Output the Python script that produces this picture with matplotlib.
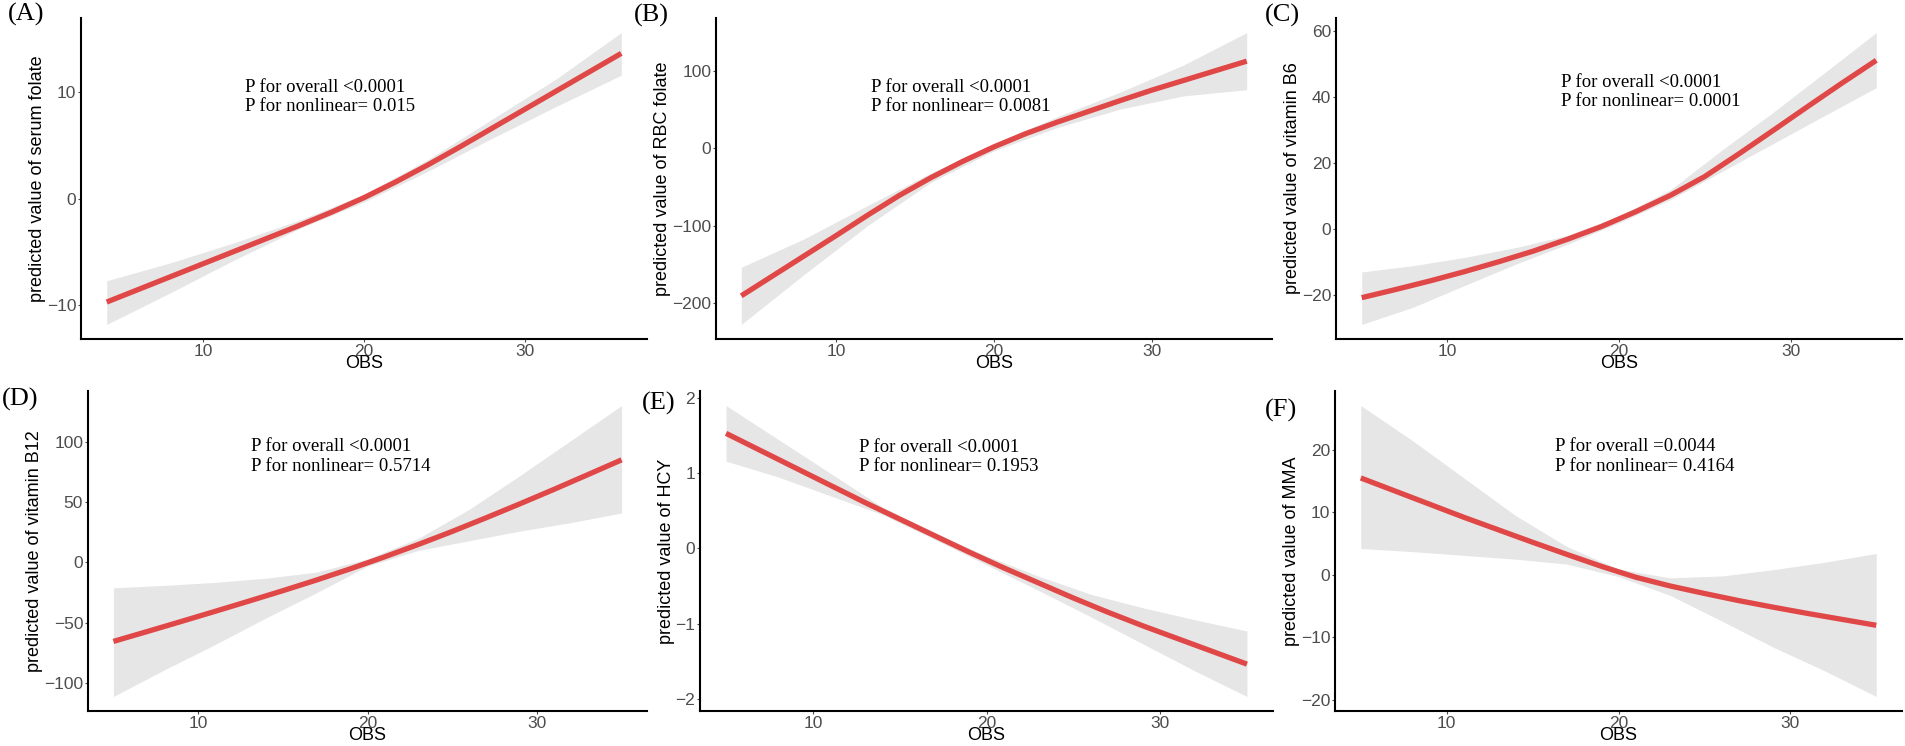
#!/usr/bin/env python3
"""
RCS curves: OBS vs predicted values of six markers (2x3 panels)
"""

import matplotlib
matplotlib.use('Agg')
import matplotlib.pyplot as plt

# ---- data ----
# fitted curve (finer grid) and 95% CI band (coarser grid)
obs_a = [4, 6, 8, 10, 12, 14, 16, 18, 20, 22, 24, 26, 28, 30, 32, 34, 36]
fit_a = [-9.7, -8.5, -7.3, -6.1, -4.9, -3.7, -2.5, -1.25, 0.1, 1.6, 3.2,
         4.9, 6.65, 8.4, 10.15, 11.9, 13.65]
ci_x_a = [4, 8, 12, 16, 20, 24, 28, 32, 36]
lo_a = [-11.8, -8.8, -5.7, -2.8, -0.3, 2.6, 5.7, 8.7, 11.6]
hi_a = [-7.7, -6.0, -4.1, -2.0, 0.4, 3.7, 7.5, 11.3, 15.6]

obs_b = [4, 6, 8, 10, 12, 14, 16, 18, 20, 22, 24, 26, 28, 30, 32, 34, 36]
fit_b = [-191, -165, -139, -113, -86.5, -61, -38, -17, 2, 19, 34, 48, 62,
         75.5, 88, 100.5, 113]
ci_x_b = [4, 8, 12, 16, 20, 24, 28, 32, 36]
lo_b = [-228, -163, -100, -44, -3, 27, 51, 68, 76]
hi_b = [-154, -117, -74, -32, 6, 41, 73, 108, 150]

obs_c = [5, 7, 9, 11, 13, 15, 17, 19, 21, 23, 25, 27, 29, 31, 33, 35]
fit_c = [-20.7, -18.2, -15.6, -12.8, -9.8, -6.6, -3.0, 0.9, 5.4, 10.3, 16.0,
         22.9, 30.0, 37.2, 44.3, 51.2]
ci_x_c = [5, 8, 11, 14, 17, 20, 23, 26, 29, 32, 35]
lo_c = [-28.8, -23.6, -17.0, -10.5, -4.5, 2.0, 9.0, 17.5, 26.0, 34.5, 42.9]
hi_c = [-12.9, -11.0, -8.5, -5.5, -1.8, 4.0, 12.0, 24.0, 35.5, 47.5, 59.6]

obs_d = [5, 7, 9, 11, 13, 15, 17, 19, 21, 23, 25, 27, 29, 31, 33, 35]
fit_d = [-65.4, -57.2, -48.9, -40.5, -32.0, -23.4, -14.5, -5.2, 4.6, 14.9,
         25.7, 37.0, 48.6, 60.5, 72.7, 85.0]
ci_x_d = [5, 8, 11, 14, 17, 20, 23, 26, 29, 32, 35]
lo_d = [-111, -89, -68, -46, -25, -3, 10, 18, 26, 33, 41]
hi_d = [-21, -19, -16.5, -13, -8, 3, 20, 44, 72, 101, 130]

obs_e = [5, 7, 9, 11, 13, 15, 17, 19, 21, 23, 25, 27, 29, 31, 33, 35]
fit_e = [1.53, 1.30, 1.07, 0.84, 0.61, 0.39, 0.17, -0.05, -0.26, -0.46,
         -0.66, -0.85, -1.03, -1.20, -1.37, -1.54]
ci_x_e = [5, 8, 11, 14, 17, 20, 23, 26, 29, 32, 35]
lo_e = [1.16, 0.95, 0.70, 0.45, 0.12, -0.22, -0.56, -0.91, -1.27, -1.63, -1.97]
hi_e = [1.90, 1.45, 1.00, 0.55, 0.21, -0.10, -0.37, -0.61, -0.79, -0.95, -1.10]

obs_f = [5, 7, 9, 11, 13, 15, 17, 19, 21, 23, 25, 27, 29, 31, 33, 35]
fit_f = [15.5, 13.4, 11.3, 9.2, 7.2, 5.2, 3.25, 1.35, -0.4, -1.8, -3.0,
         -4.15, -5.2, -6.2, -7.15, -8.1]
ci_x_f = [5, 8, 11, 14, 17, 20, 23, 26, 29, 32, 35]
lo_f = [4.2, 3.7, 3.1, 2.5, 1.7, -0.3, -3.3, -7.4, -11.6, -15.4, -19.5]
hi_f = [27.1, 21.5, 15.5, 9.5, 4.5, 0.9, -0.5, -0.2, 0.8, 2.0, 3.4]

panel_tags = ['(A)', '(B)', '(C)', '(D)', '(E)', '(F)']
ylabels = ['predicted value of serum folate', 'predicted value of RBC folate',
           'predicted value of vitamin B6', 'predicted value of vitamin B12',
           'predicted value of HCY', 'predicted value of MMA']
p_texts = ['P for overall <0.0001\nP for nonlinear= 0.015',
           'P for overall <0.0001\nP for nonlinear= 0.0081',
           'P for overall <0.0001\nP for nonlinear= 0.0001',
           'P for overall <0.0001\nP for nonlinear= 0.5714',
           'P for overall <0.0001\nP for nonlinear= 0.1953',
           'P for overall =0.0044\nP for nonlinear= 0.4164']
xticks = [10, 20, 30]
yticks = [[-10, 0, 10], [-200, -100, 0, 100], [-20, 0, 20, 40, 60],
          [-100, -50, 0, 50, 100], [-2, -1, 0, 1, 2], [-20, -10, 0, 10, 20]]

series = [(obs_a, fit_a, ci_x_a, lo_a, hi_a), (obs_b, fit_b, ci_x_b, lo_b, hi_b),
          (obs_c, fit_c, ci_x_c, lo_c, hi_c), (obs_d, fit_d, ci_x_d, lo_d, hi_d),
          (obs_e, fit_e, ci_x_e, lo_e, hi_e), (obs_f, fit_f, ci_x_f, lo_f, hi_f)]

# ---- layout (pixels on a 1905x746 canvas) ----
W, H = 1905, 746
# left, right, top, bottom of each axes
boxes = [(81, 647, 18, 339), (716, 1272, 18, 339), (1336, 1902, 18, 339),
         (88, 647, 391, 711), (700, 1273, 391, 711), (1335, 1902, 391, 711)]
text_pos = [(0.29, 0.754), (0.279, 0.754), (0.398, 0.770),
            (0.292, 0.795), (0.277, 0.794), (0.388, 0.795)]
tag_pos = [(8, 14), (634, 15), (1265, 15), (2, 399), (642, 403), (1265, 410)]

LINE = '#E04747'
BAND = '#E6E6E6'
TICKC = '#4D4D4D'
sans = ['Liberation Sans', 'DejaVu Sans']
serif = ['Liberation Serif', 'DejaVu Serif']

fig = plt.figure(figsize=(W / 100, H / 100), dpi=100)

for i, (x, fit, cx, lo, hi) in enumerate(series):
    l, r, t, b = boxes[i]
    ax = fig.add_axes([l / W, 1 - b / H, (r - l) / W, (b - t) / H])

    ax.fill_between(cx, lo, hi, color=BAND, lw=0)
    ax.plot(x, fit, color=LINE, lw=3.8, solid_capstyle='butt',
            solid_joinstyle='round')

    # classic theme: only left/bottom axis lines
    for s in ['top', 'right']:
        ax.spines[s].set_visible(False)
    for s in ['left', 'bottom']:
        ax.spines[s].set_linewidth(1.5)
        ax.spines[s].set_color('black')

    ax.set_xticks(xticks)
    ax.set_yticks(yticks[i])
    ax.tick_params(length=2.5, width=0.8, color=TICKC, pad=1,
                   labelsize=12.5, labelcolor=TICKC)
    for lab in ax.get_xticklabels() + ax.get_yticklabels():
        lab.set_family(sans)

    ax.set_xlabel('OBS', family=sans, fontsize=13, va='center')
    ax.xaxis.set_label_coords(0.5, -25 / (b - t))
    ax.set_ylabel(ylabels[i], family=sans, fontsize=13, labelpad=0.5)

    tx, ty = text_pos[i]
    ax.text(tx, ty, p_texts[i], transform=ax.transAxes, family=serif,
            fontsize=13.5, ha='left', va='center', linespacing=1.2)

    px, py = tag_pos[i]
    fig.text(px / W, 1 - py / H, panel_tags[i], family=serif, fontsize=19,
             ha='left', va='center')

fig.savefig('out.png', dpi=100)
print("Done!")
